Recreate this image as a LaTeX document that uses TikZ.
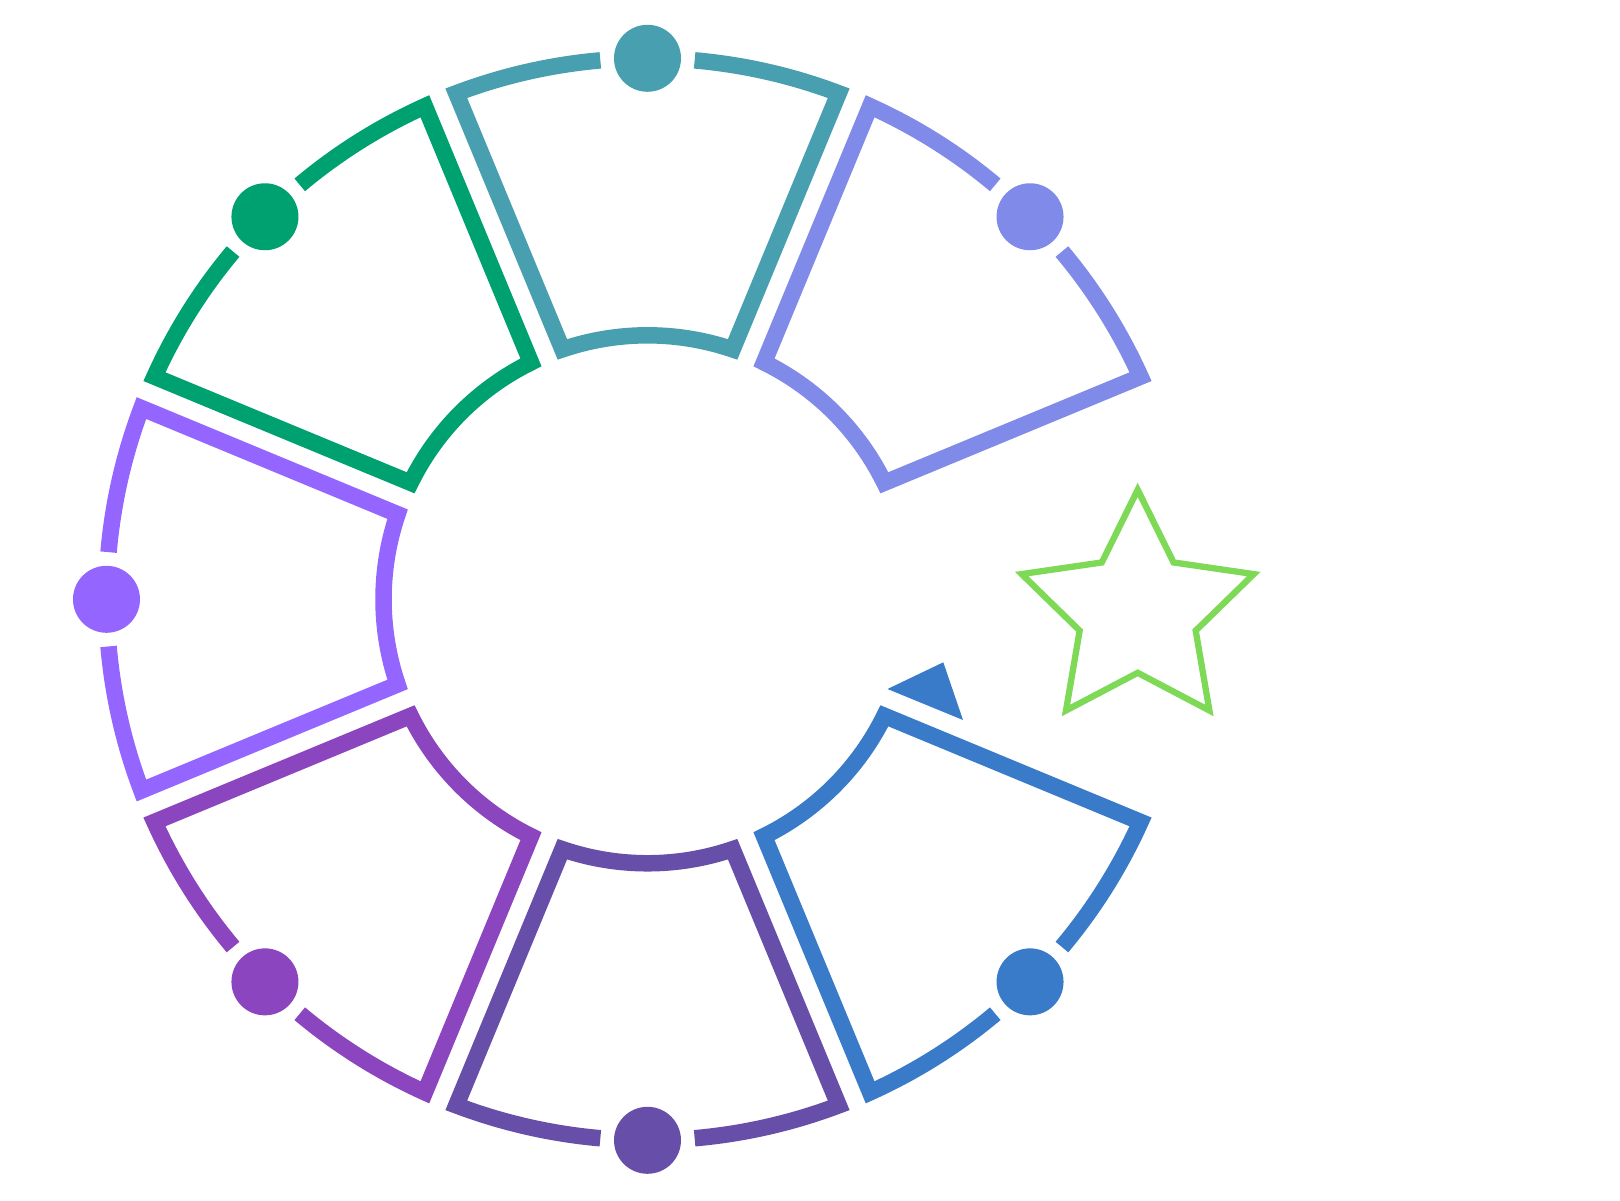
\documentclass[tikz,border=0pt]{standalone}
\definecolor{cTeal}{HTML}{489FAF}
\definecolor{cGreen}{HTML}{00A170}
\definecolor{cViolet}{HTML}{9466FF}
\definecolor{cPlum}{HTML}{8A45BF}
\definecolor{cIndigo}{HTML}{674FA9}
\definecolor{cBlue}{HTML}{397BC8}
\definecolor{cPeri}{HTML}{808AE9}
\definecolor{cStar}{HTML}{7ED957}
\tikzset{
  segline/.style={line width=16.5pt, line join=miter},
  dot/.style={circle, inner sep=0pt, minimum size=67pt},
}
\def\Ro{541}
\def\Ri{264}
\def\ao{1.80}
\def\ai{3.69}
\newcommand\mySeg[3]{%
  \draw[segline, draw=#2] ({#1+5}:\Ro) arc[start angle={#1+5}, end angle={#1+22.5-\ao}, radius=\Ro]
    -- ({#1+22.5-\ai}:\Ri) arc[start angle={#1+22.5-\ai}, end angle={#1-22.5+\ai}, radius=\Ri]
    -- ({#1-22.5+\ao}:\Ro) arc[start angle={#1-22.5+\ao}, end angle={#1-5}, radius=\Ro];
  \node[dot, fill=#2] (#3) at (#1:\Ro) {};
}
\begin{document}
\begin{tikzpicture}[x=1pt,y=1pt]
\useasboundingbox (-647.5,-600.7) rectangle (972.5,599.3);
\mySeg{90}{cTeal}{dTop}
\mySeg{135}{cGreen}{dUL}
\mySeg{180}{cViolet}{dL}
\mySeg{225}{cPlum}{dLL}
\mySeg{270}{cIndigo}{dB}
\mySeg{315}{cBlue}{dLR}
\mySeg{45}{cPeri}{dUR}
% star
\begin{scope}[shift={(490.2,-12.5)}]
\draw[cStar, line width=6.3pt, line join=miter]
  (90:122) -- (126:61) -- (162:122) -- (198:61) -- (234:122) -- (270:61)
  -- (306:122) -- (342:61) -- (18:122) -- (54:61) -- cycle;
\end{scope}
% pointer triangle
\fill[cBlue] (240,-89.7) -- (295.8,-63) -- (315.5,-120.7) -- cycle;
\end{tikzpicture}
\end{document}
